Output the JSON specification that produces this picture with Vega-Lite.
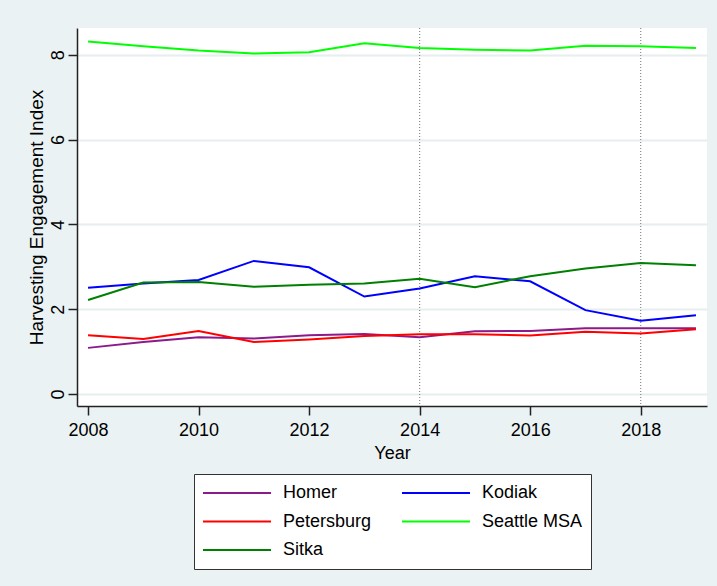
{
  "$schema": "https://vega.github.io/schema/vega-lite/v6.json",
  "width": 630,
  "height": 378,
  "autosize": {"type": "none"},
  "padding": {"left": 77, "top": 28, "right": 10, "bottom": 180},
  "background": "#EAF2F3",
  "config": {
    "font": "Liberation Sans",
    "view": {"stroke": null, "fill": "white"},
    "axis": {"labelColor": "black", "titleColor": "black", "domainColor": "#222", "tickColor": "#222", "titleFontWeight": "normal"}
  },
  "datasets": {
    "series": [
      {"Year": 2008, "City": "Homer", "Index": 1.09},
      {"Year": 2009, "City": "Homer", "Index": 1.23},
      {"Year": 2010, "City": "Homer", "Index": 1.34},
      {"Year": 2011, "City": "Homer", "Index": 1.31},
      {"Year": 2012, "City": "Homer", "Index": 1.39},
      {"Year": 2013, "City": "Homer", "Index": 1.42},
      {"Year": 2014, "City": "Homer", "Index": 1.34},
      {"Year": 2015, "City": "Homer", "Index": 1.48},
      {"Year": 2016, "City": "Homer", "Index": 1.49},
      {"Year": 2017, "City": "Homer", "Index": 1.55},
      {"Year": 2018, "City": "Homer", "Index": 1.55},
      {"Year": 2019, "City": "Homer", "Index": 1.55},
      {"Year": 2008, "City": "Kodiak", "Index": 2.51},
      {"Year": 2009, "City": "Kodiak", "Index": 2.61},
      {"Year": 2010, "City": "Kodiak", "Index": 2.69},
      {"Year": 2011, "City": "Kodiak", "Index": 3.14},
      {"Year": 2012, "City": "Kodiak", "Index": 2.99},
      {"Year": 2013, "City": "Kodiak", "Index": 2.30},
      {"Year": 2014, "City": "Kodiak", "Index": 2.49},
      {"Year": 2015, "City": "Kodiak", "Index": 2.78},
      {"Year": 2016, "City": "Kodiak", "Index": 2.66},
      {"Year": 2017, "City": "Kodiak", "Index": 1.98},
      {"Year": 2018, "City": "Kodiak", "Index": 1.73},
      {"Year": 2019, "City": "Kodiak", "Index": 1.86},
      {"Year": 2008, "City": "Petersburg", "Index": 1.39},
      {"Year": 2009, "City": "Petersburg", "Index": 1.30},
      {"Year": 2010, "City": "Petersburg", "Index": 1.49},
      {"Year": 2011, "City": "Petersburg", "Index": 1.23},
      {"Year": 2012, "City": "Petersburg", "Index": 1.29},
      {"Year": 2013, "City": "Petersburg", "Index": 1.37},
      {"Year": 2014, "City": "Petersburg", "Index": 1.41},
      {"Year": 2015, "City": "Petersburg", "Index": 1.41},
      {"Year": 2016, "City": "Petersburg", "Index": 1.38},
      {"Year": 2017, "City": "Petersburg", "Index": 1.47},
      {"Year": 2018, "City": "Petersburg", "Index": 1.43},
      {"Year": 2019, "City": "Petersburg", "Index": 1.53},
      {"Year": 2008, "City": "Seattle MSA", "Index": 8.31},
      {"Year": 2009, "City": "Seattle MSA", "Index": 8.20},
      {"Year": 2010, "City": "Seattle MSA", "Index": 8.10},
      {"Year": 2011, "City": "Seattle MSA", "Index": 8.03},
      {"Year": 2012, "City": "Seattle MSA", "Index": 8.06},
      {"Year": 2013, "City": "Seattle MSA", "Index": 8.27},
      {"Year": 2014, "City": "Seattle MSA", "Index": 8.16},
      {"Year": 2015, "City": "Seattle MSA", "Index": 8.12},
      {"Year": 2016, "City": "Seattle MSA", "Index": 8.10},
      {"Year": 2017, "City": "Seattle MSA", "Index": 8.21},
      {"Year": 2018, "City": "Seattle MSA", "Index": 8.20},
      {"Year": 2019, "City": "Seattle MSA", "Index": 8.16},
      {"Year": 2008, "City": "Sitka", "Index": 2.22},
      {"Year": 2009, "City": "Sitka", "Index": 2.63},
      {"Year": 2010, "City": "Sitka", "Index": 2.64},
      {"Year": 2011, "City": "Sitka", "Index": 2.53},
      {"Year": 2012, "City": "Sitka", "Index": 2.58},
      {"Year": 2013, "City": "Sitka", "Index": 2.61},
      {"Year": 2014, "City": "Sitka", "Index": 2.72},
      {"Year": 2015, "City": "Sitka", "Index": 2.52},
      {"Year": 2016, "City": "Sitka", "Index": 2.78},
      {"Year": 2017, "City": "Sitka", "Index": 2.96},
      {"Year": 2018, "City": "Sitka", "Index": 3.09},
      {"Year": 2019, "City": "Sitka", "Index": 3.04}
    ],
    "marks": [{"Year": 2014}, {"Year": 2018}]
  },
  "layer": [
    {
      "data": {"name": "marks"},
      "mark": {"type": "rule", "color": "#8a8a8a", "strokeDash": [1, 2], "strokeWidth": 1.2},
      "encoding": {
        "x": {"field": "Year", "type": "quantitative", "scale": {"domain": [2007.8, 2019.2], "nice": false, "zero": false}}
      }
    },
    {
      "data": {"name": "series"},
      "mark": {"type": "line", "strokeWidth": 2},
      "encoding": {
        "x": {
          "field": "Year", "type": "quantitative",
          "scale": {"domain": [2007.8, 2019.2], "nice": false, "zero": false},
          "axis": {
            "values": [2008, 2010, 2012, 2014, 2016, 2018], "format": "d", "grid": false,
            "tickSize": 9, "labelFontSize": 18, "labelPadding": 6, "labelFlush": false,
            "title": "Year", "titleFontSize": 18, "titlePadding": 5, "domainWidth": 1.5, "tickWidth": 1.5
          }
        },
        "y": {
          "field": "Index", "type": "quantitative",
          "scale": {"domain": [-0.28, 8.63], "nice": false, "zero": false},
          "axis": {
            "values": [0, 2, 4, 6, 8], "grid": true, "gridColor": "#E6EEF0", "gridWidth": 2,
            "tickSize": 9, "labelFontSize": 18, "labelAngle": -90, "labelAlign": "center", "labelBaseline": "bottom",
            "labelPadding": 1, "labelFlush": false,
            "title": "Harvesting Engagement Index", "titleFontSize": 19, "titlePadding": 3,
            "domainWidth": 1.5, "tickWidth": 1.5
          }
        },
        "color": {
          "field": "City", "type": "nominal",
          "scale": {
            "domain": ["Homer", "Kodiak", "Petersburg", "Seattle MSA", "Sitka"],
            "range": ["#8B1A8B", "#0000FF", "#FF0000", "#00FF00", "#008000"]
          },
          "legend": {
            "orient": "none", "legendX": 117, "legendY": 446, "columns": 2, "direction": "horizontal",
            "title": null, "strokeColor": "#333", "fillColor": "white", "padding": 8,
            "symbolType": "stroke", "symbolSize": 4624, "symbolStrokeWidth": 2,
            "labelFontSize": 18, "labelColor": "black", "labelOffset": 11, "clipHeight": 22,
            "rowPadding": 6.5, "columnPadding": 29, "labelLimit": 300
          }
        }
      }
    }
  ]
}
